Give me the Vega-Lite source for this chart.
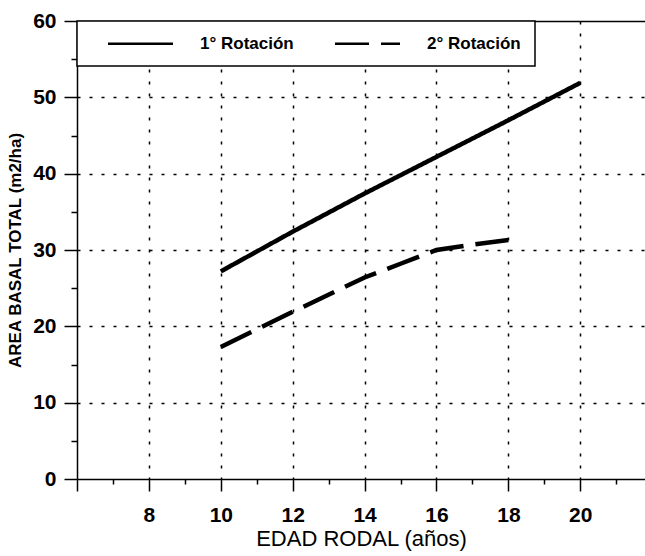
{
  "$schema": "https://vega.github.io/schema/vega-lite/v6.json",
  "width": 568,
  "height": 458,
  "autosize": {"type": "none"},
  "padding": {"left": 77, "top": 21, "right": 0, "bottom": 77},
  "background": "white",
  "config": {
    "view": {"stroke": null},
    "font": "Liberation Sans",
    "legend": {"strokeWidth": 1.5}
  },
  "data": {
    "values": [
      {"edad": 10, "area": 27.2, "rotacion": "1° Rotación"},
      {"edad": 12, "area": 32.4, "rotacion": "1° Rotación"},
      {"edad": 14, "area": 37.4, "rotacion": "1° Rotación"},
      {"edad": 16, "area": 42.2, "rotacion": "1° Rotación"},
      {"edad": 18, "area": 47.0, "rotacion": "1° Rotación"},
      {"edad": 20, "area": 51.9, "rotacion": "1° Rotación"},
      {"edad": 10, "area": 17.3, "rotacion": "2° Rotación"},
      {"edad": 12, "area": 21.9, "rotacion": "2° Rotación"},
      {"edad": 14, "area": 26.4, "rotacion": "2° Rotación"},
      {"edad": 15, "area": 28.2, "rotacion": "2° Rotación"},
      {"edad": 16, "area": 30.0, "rotacion": "2° Rotación"},
      {"edad": 17, "area": 30.7, "rotacion": "2° Rotación"},
      {"edad": 18, "area": 31.3, "rotacion": "2° Rotación"}
    ]
  },
  "mark": {"type": "line", "color": "black", "strokeWidth": 4.5, "strokeCap": "butt", "clip": true},
  "encoding": {
    "x": {
      "field": "edad",
      "type": "quantitative",
      "scale": {"domain": [6, 21.8], "nice": false, "zero": false},
      "axis": {
        "title": "EDAD RODAL (años)",
        "values": [6, 7, 8, 9, 10, 11, 12, 13, 14, 15, 16, 17, 18, 19, 20, 21],
        "labelExpr": "datum.value % 2 == 0 && datum.value >= 8 ? datum.label : ''",
        "tickSize": {"condition": {"test": "datum.value % 2 == 0", "value": 12}, "value": 5},
        "grid": true,
        "gridColor": "black",
        "gridDash": [3, 9],
        "gridWidth": 1.5,
        "gridOpacity": {"condition": {"test": "datum.value % 2 == 0 && datum.value > 6", "value": 1}, "value": 0},
        "domainColor": "black",
        "domainWidth": 1.5,
        "tickColor": "black",
        "tickWidth": 1.5,
        "labelFontSize": 21,
        "labelFontWeight": "bold",
        "labelColor": "black",
        "labelPadding": 13,
        "labelFlush": false,
        "labelOverlap": false,
        "titleFontSize": 22,
        "titleFontWeight": "normal",
        "titleColor": "black",
        "titlePadding": 3
      }
    },
    "y": {
      "field": "area",
      "type": "quantitative",
      "scale": {"domain": [0, 60], "nice": false, "zero": true},
      "axis": {
        "title": "AREA BASAL TOTAL (m2/ha)",
        "values": [0, 5, 10, 15, 20, 25, 30, 35, 40, 45, 50, 55, 60],
        "labelExpr": "datum.value % 10 == 0 ? datum.label : ''",
        "tickSize": {"condition": {"test": "datum.value % 10 == 0", "value": 13}, "value": 6},
        "grid": true,
        "gridColor": "black",
        "gridDash": {"condition": {"test": "datum.value == 60", "value": [1, 0]}, "value": [3, 9]},
        "gridWidth": 1.5,
        "gridOpacity": {"condition": {"test": "datum.value % 10 == 0 && datum.value > 0", "value": 1}, "value": 0},
        "domainColor": "black",
        "domainWidth": 1.5,
        "tickColor": "black",
        "tickWidth": 1.5,
        "labelFontSize": 21,
        "labelFontWeight": "bold",
        "labelColor": "black",
        "labelPadding": 8,
        "labelFlush": false,
        "labelOverlap": false,
        "titleFontSize": 17,
        "titleFontWeight": "bold",
        "titleColor": "black",
        "titlePadding": 8
      }
    },
    "strokeDash": {
      "field": "rotacion",
      "type": "nominal",
      "scale": {"domain": ["1° Rotación", "2° Rotación"], "range": [[1, 0], [34, 12]]},
      "legend": {
        "orient": "none",
        "legendX": 0,
        "legendY": 0,
        "direction": "horizontal",
        "title": null,
        "symbolType": "M-5,0H5",
        "symbolSize": 169,
        "symbolStrokeColor": "black",
        "symbolStrokeWidth": 2.5,
        "labelFontSize": 17,
        "labelFontWeight": "bold",
        "labelColor": "black",
        "labelFont": "Liberation Sans",
        "padding": 14,
        "fillColor": "white",
        "strokeColor": "black",
        "symbolOffset": 41,
        "labelOffset": 51,
        "columnPadding": 24
      }
    }
  }
}
